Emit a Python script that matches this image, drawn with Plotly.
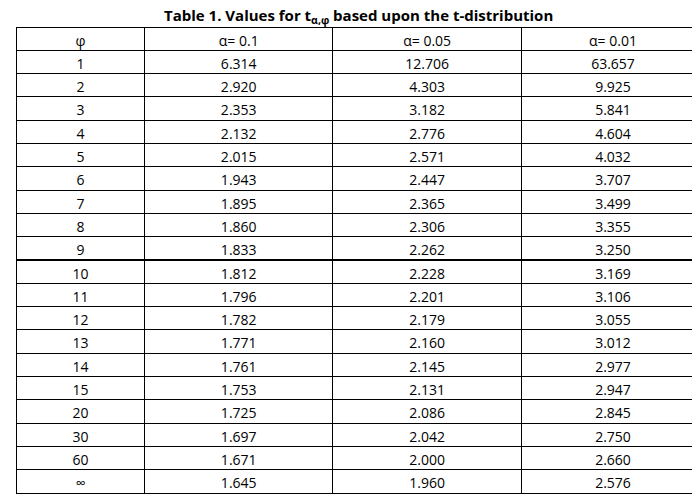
import plotly.graph_objects as go

phi = ["1","2","3","4","5","6","7","8","9","10","11","12","13","14","15","20","30","60","∞"]
a01 = ["6.314","2.920","2.353","2.132","2.015","1.943","1.895","1.860","1.833","1.812","1.796","1.782","1.771","1.761","1.753","1.725","1.697","1.671","1.645"]
a005 = ["12.706","4.303","3.182","2.776","2.571","2.447","2.365","2.306","2.262","2.228","2.201","2.179","2.160","2.145","2.131","2.086","2.042","2.000","1.960"]
a001 = ["63.657","9.925","5.841","4.604","4.032","3.707","3.499","3.355","3.250","3.169","3.106","3.055","3.012","2.977","2.947","2.845","2.750","2.660","2.576"]
headers = ["φ", "α= 0.1", "α= 0.05", "α= 0.01"]

font = dict(family="Open Sans, Liberation Sans, sans-serif", size=14, color="black")
fig = go.Figure(go.Table(
    columnwidth=[125, 183, 184, 178],
    header=dict(values=headers, align="center", fill_color="white",
                line=dict(color="black", width=1), font=font, height=23.3),
    cells=dict(values=[phi, a01, a005, a001], align="center", fill_color="white",
               line=dict(color="black", width=1), font=font, height=23.3),
    domain=dict(x=[0.012, 0.995], y=[0.0, 0.962]),
))
fig.add_annotation(text="<b>Table 1. Values for t<sub>α,φ</sub> based upon the t-distribution</b>",
                   x=0.5, y=1.01, xref="paper", yref="paper", xanchor="center", yanchor="top",
                   showarrow=False, font=dict(family="Open Sans, Liberation Sans, sans-serif", size=15, color="black"))
fig.update_layout(width=700, height=500, margin=dict(l=0, r=0, t=0, b=0),
                  paper_bgcolor="white", plot_bgcolor="white")
fig.write_html("out.html")
